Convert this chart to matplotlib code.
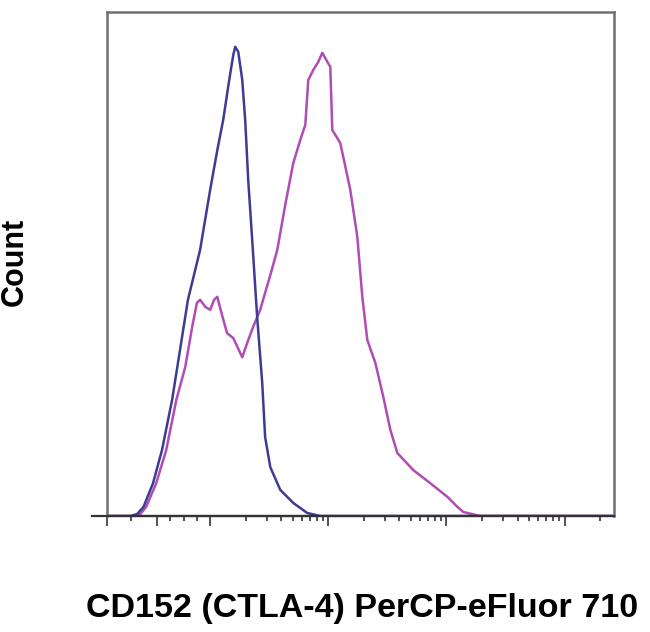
import matplotlib.pyplot as plt
import numpy as np

# Histogramm-Daten (Fluoreszenz, Count in % vom Maximum der Skala)
iso_x = [-95, -51, -38, -26, -8, 9, 28, 43, 58, 81, 100, 115, 129, 145, 157, 163, 173,
         187, 198, 210, 227, 250, 276, 292, 323, 392, 505, 664, 856, 262144]
iso_y = [0, 0, 0.4, 1.8, 6.5, 13.1, 23.0, 32.9, 42.9, 52.8, 64.7, 72.6, 78.6, 86.5, 91.5, 93.1, 92.1,
         86.5, 78.6, 66.7, 54.8, 39.5, 26.4, 15.7, 9.7, 5.2, 2.6, 0.6, 0, 0]

ctla_x = [-95, -47, -32, -21, -2, 17, 36, 53, 66, 75, 81, 91, 100, 108, 115, 126, 139, 157,
          187, 210, 231, 265, 323, 370, 432, 505, 579, 639, 677, 746, 823, 890, 961, 1040,
          1081, 1264, 1536, 1761, 1941, 2141, 2502, 2925, 3353, 3843, 5252, 7317, 10200,
          12400, 13900, 19400, 262144]
ctla_y = [0, 0, 0.4, 1.8, 6.5, 13.1, 23.0, 29.6, 37.5, 42.3, 42.9, 41.5, 40.9, 42.9, 43.5, 39.9, 36.3, 35.3,
          31.5, 34.9, 37.5, 40.9, 47.8, 52.8, 61.7, 70.0, 74.6, 77.6, 86.5, 88.5, 90.1, 91.9, 90.5, 89.1,
          76.6, 74.0, 64.7, 55.4, 43.5, 34.9, 30.4, 23.6, 17.1, 12.5, 9.1, 6.5, 3.8,
          1.8, 0.8, 0, 0]

major_ticks = [-95, 0, 100, 1000, 10000, 100000]
minor_ticks = [-50, 25, 50, 75] + [m * 10 ** k for k in (2, 3, 4) for m in range(2, 10)] + [200000]

plt.rcParams['font.family'] = ['Liberation Sans', 'DejaVu Sans']

fig = plt.figure(figsize=(6.5, 6.32), dpi=100)
ax = fig.add_axes([0.1646, 0.1835, 0.78, 0.7975])

ax.plot(ctla_x, ctla_y, color='#b04cb4', lw=1.8)
ax.plot(iso_x, iso_y, color='#3c3c94', lw=1.8)

ax.set_xscale('symlog', linthresh=100, linscale=0.403)
ax.set_xlim(-95, 262144)
ax.set_ylim(0, 100)

ax.set_xticks(major_ticks)
ax.set_xticks(minor_ticks, minor=True)
ax.set_xticklabels([])
ax.set_yticks([])
ax.tick_params(axis='x', which='major', direction='out', length=7, width=1.2, color='#333333')
ax.tick_params(axis='x', which='minor', direction='out', length=3.5, width=1.2, color='#333333')

for side in ('top', 'left', 'right'):
    ax.spines[side].set_color('#707070')
    ax.spines[side].set_linewidth(1.8)
ax.spines['bottom'].set_color('#333333')
ax.spines['bottom'].set_linewidth(1.6)
ax.axhline(0, xmin=-0.03, xmax=1, color='#333333', lw=1.6, clip_on=False)

fig.text(15 / 650, 1 - 262 / 632, "Count", rotation=90, ha='center', va='center',
         fontsize=22, fontweight='bold')
fig.text(362 / 650, 1 - 617 / 632, "CD152 (CTLA-4) PerCP-eFluor 710", ha='center', va='baseline',
         fontsize=24.5, fontweight='bold')

fig.savefig("out.png", dpi=100)
